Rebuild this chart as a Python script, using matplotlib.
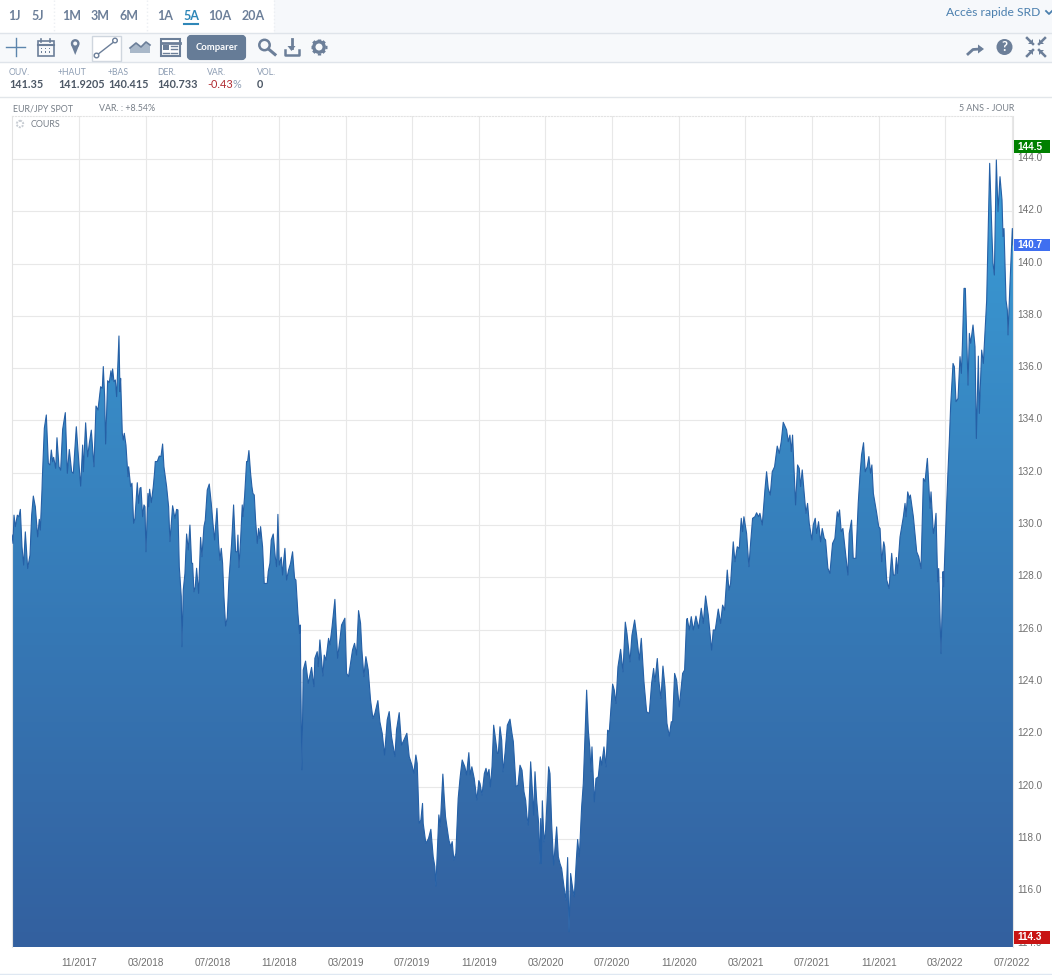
import numpy as np
import matplotlib
matplotlib.use('Agg')
import matplotlib.pyplot as plt
from matplotlib.colors import LinearSegmentedColormap
from matplotlib.patches import Rectangle, FancyBboxPatch, Circle, Polygon
from matplotlib.transforms import ScaledTranslation

# position on the time axis, in months since 07/2017
months = [
    -0.02, 0.04, 0.10, 0.18, 0.30, 0.40, 0.48, 0.58, 0.68, 0.78, 0.92, 1.06, 1.16, 1.26, 1.38, 1.52,
    1.62, 1.68, 1.78, 1.80, 1.92, 2.04, 2.16, 2.26, 2.34, 2.42, 2.48, 2.60, 2.68, 2.80, 2.90, 3.02,
    3.18, 3.30, 3.42, 3.56, 3.66, 3.84, 3.98, 4.10, 4.22, 4.26, 4.40, 4.52, 4.62, 4.74,
    4.90, 5.02, 5.14, 5.30, 5.40, 5.46, 5.54, 5.60, 5.72, 5.82, 5.92, 5.98, 6.02, 6.10, 6.18, 6.26,
    6.40, 6.46, 6.50, 6.60, 6.66, 6.72, 6.82, 6.94, 6.98, 7.10, 7.18, 7.28, 7.36, 7.50, 7.58, 7.66,
    7.72, 7.82, 7.90, 7.96, 8.02, 8.14, 8.18, 8.24, 8.34, 8.46, 8.54, 8.58, 8.70, 8.82, 8.92, 9.02,
    9.10, 9.26, 9.38, 9.46, 9.62, 9.76, 9.86, 9.94, 10.02, 10.14, 10.18, 10.26, 10.36, 10.46, 10.56, 10.66,
    10.76, 10.82, 10.90, 10.98, 11.06, 11.18, 11.30, 11.38, 11.50, 11.58, 11.70, 11.82, 11.94, 12.04, 12.14, 12.28,
    12.38, 12.46, 12.54, 12.62, 12.70, 12.80, 12.90, 13.00, 13.16, 13.28, 13.40, 13.50, 13.54, 13.60, 13.70, 13.80,
    13.84, 13.94, 14.06, 14.12, 14.20, 14.30, 14.38, 14.44, 14.52, 14.60, 14.70, 14.78, 14.86, 14.90, 15.02, 15.12,
    15.22, 15.30, 15.36, 15.46, 15.54, 15.66, 15.78, 15.86, 15.94, 16.02, 16.14, 16.22, 16.28, 16.36, 16.46, 16.58,
    16.70, 16.82, 16.94, 17.02, 17.14, 17.24, 17.28,
    17.32, 17.38, 17.46, 17.60, 17.76, 17.96, 18.10, 18.16, 18.30, 18.36, 18.46, 18.56, 18.64, 18.72, 18.82, 18.98,
    19.06, 19.18, 19.36, 19.52, 19.66, 19.76, 19.96, 20.06, 20.18, 20.30, 20.42, 20.54, 20.66, 20.78, 20.90, 20.98,
    21.10, 21.22, 21.36, 21.50, 21.64, 21.76, 21.94, 22.06, 22.20, 22.34, 22.50, 22.62, 22.76, 22.96, 23.06, 23.22,
    23.36, 23.50, 23.68, 23.82, 23.98, 24.10, 24.22, 24.30, 24.42, 24.52, 24.62, 24.66, 24.82, 24.98, 25.12, 25.26,
    25.36, 25.42, 25.60, 25.68, 25.84, 25.92, 26.00, 26.20, 26.32, 26.40, 26.50, 26.62, 26.76, 26.88, 27.00, 27.16,
    27.26, 27.40, 27.48, 27.58, 27.72, 27.88, 28.00,
    28.07, 28.19, 28.33, 28.43, 28.51, 28.61, 28.69, 28.79, 28.89, 28.97, 29.11, 29.17, 29.27, 29.37, 29.45, 29.57,
    29.71, 29.87, 29.99, 30.07, 30.23, 30.35, 30.47, 30.59, 30.71, 30.81, 30.89, 30.97, 31.11, 31.21, 31.29, 31.37,
    31.47, 31.59, 31.67, 31.71, 31.75, 31.81, 31.91, 32.01, 32.19, 32.27, 32.37, 32.49, 32.67, 32.77, 32.87, 32.97,
    33.11, 33.23, 33.33, 33.41, 33.51, 33.63, 33.73, 33.85, 33.93, 34.03, 34.17, 34.27, 34.47, 34.57, 34.67, 34.73,
    34.79, 34.93, 35.03, 35.17, 35.29, 35.37, 35.51, 35.63, 35.73, 35.83, 36.03, 36.13, 36.23, 36.35, 36.51, 36.65,
    36.79, 36.89, 37.07, 37.19, 37.35, 37.47, 37.63, 37.75, 37.91, 38.07, 38.23, 38.37, 38.49, 38.57, 38.71, 38.81,
    38.93, 39.05, 39.17, 39.29, 39.43, 39.55, 39.63, 39.75, 39.87, 40.03, 40.23, 40.35, 40.47,
    40.51, 40.63, 40.75, 40.87, 41.03, 41.19, 41.35, 41.47, 41.61, 41.77, 41.97, 42.07, 42.19, 42.37, 42.51, 42.63,
    42.75, 42.91, 43.01, 43.11, 43.27, 43.37, 43.51, 43.63, 43.75, 43.83, 43.91, 44.07, 44.21, 44.31, 44.43, 44.57,
    44.67, 44.79, 44.87, 45.01, 45.17, 45.27, 45.37, 45.49, 45.61, 45.75, 45.91, 46.03, 46.15, 46.27, 46.39, 46.47,
    46.57, 46.67, 46.75, 46.83, 47.01, 47.13, 47.23, 47.31, 47.41, 47.51, 47.63, 47.73, 47.83, 47.99, 48.07, 48.19,
    48.27, 48.39, 48.51, 48.61, 48.73, 48.81, 48.95, 49.07, 49.23, 49.37, 49.51, 49.57, 49.65, 49.75, 49.85, 49.97,
    50.15, 50.23, 50.37, 50.47, 50.63, 50.77, 50.87, 50.97, 51.09, 51.19, 51.31, 51.41, 51.51, 51.59,
    51.68, 51.88, 52.00, 52.08, 52.18, 52.30, 52.36, 52.48, 52.62, 52.78, 52.88, 52.98, 53.06, 53.12, 53.28, 53.48,
    53.58, 53.64, 53.74, 53.84, 53.90, 54.08, 54.28, 54.40, 54.54, 54.68, 54.78, 54.92, 55.08, 55.14, 55.28, 55.36,
    55.44, 55.54, 55.60, 55.74, 55.86, 55.90, 56.00, 56.14, 56.24, 56.32, 56.46, 56.54, 56.64, 56.76, 56.88, 56.96,
    57.02, 57.12, 57.20, 57.36, 57.44, 57.52, 57.66, 57.78, 57.86, 57.98, 58.04, 58.18, 58.28, 58.48, 58.66, 58.80,
    58.86, 58.94, 59.06, 59.16, 59.28, 59.40, 59.46, 59.52, 59.64, 59.72, 59.76, 59.88, 60.02, 60.06,
]

# EUR/JPY close
price = [
    129.62, 129.30, 130.38, 129.94, 130.38, 130.32, 130.60, 129.17, 128.47, 129.74, 128.34, 128.85, 130.38, 131.11, 130.70, 129.55,
    130.22, 129.81, 131.34, 131.78, 133.70, 134.21, 132.36, 132.30, 132.87, 132.42, 132.59, 132.17, 133.34, 132.23, 132.10, 133.66,
    134.30, 131.98, 132.89, 132.04, 131.98, 133.76, 132.49, 131.49, 133.06, 132.04, 133.91, 132.61, 133.12, 133.63,
    132.23, 134.55, 134.40, 135.29, 135.23, 136.06, 134.91, 133.10, 135.52, 135.45, 135.90, 135.55, 135.97, 135.48, 135.55, 134.91,
    137.23, 135.10, 135.61, 133.51, 133.25, 133.51, 133.06, 131.85, 132.23, 131.47, 131.60, 130.07, 130.26, 131.62, 130.83, 131.41,
    131.44, 130.32, 130.77, 130.70, 128.98, 131.21, 130.70, 131.37, 130.86, 131.47, 132.04, 132.43, 132.43, 132.64, 132.62, 133.10,
    132.23, 131.47, 130.70, 129.37, 130.74, 130.26, 130.60, 130.58, 128.41, 127.26, 125.35, 127.52, 128.15, 129.66, 129.05, 130.00,
    128.54, 128.54, 127.45, 127.64, 128.35, 127.39, 129.53, 128.79, 129.94, 130.19, 131.34, 131.57, 130.83, 130.07, 129.43, 130.64,
    129.30, 128.66, 129.11, 128.54, 127.26, 126.14, 126.47, 127.90, 129.30, 130.77, 128.98, 128.98, 129.62, 128.38, 129.43, 130.77,
    130.32, 131.09, 132.43, 132.43, 132.85, 131.98, 131.47, 131.21, 131.15, 130.19, 129.30, 129.87, 129.49, 129.94, 129.17, 127.77,
    127.77, 127.77, 128.22, 128.54, 129.43, 129.66, 128.79, 128.41, 130.41, 128.47, 128.77, 128.09, 128.60, 129.11, 127.90, 128.28,
    128.54, 128.98, 127.96, 127.90, 126.62, 125.86, 126.18,
    123.70, 120.64, 124.46, 124.80, 123.95, 124.56, 123.82, 124.91, 125.16, 124.59, 125.61, 124.84, 124.23, 125.03, 124.84, 125.67,
    125.42, 126.05, 127.16, 124.91, 125.61, 126.18, 126.44, 124.33, 124.21, 124.72, 125.23, 125.48, 125.03, 126.73, 126.25, 125.23,
    124.21, 124.97, 124.46, 123.31, 122.61, 122.80, 123.29, 122.48, 122.04, 121.21, 122.55, 122.87, 121.91, 121.15, 122.17, 122.83,
    121.59, 121.78, 122.04, 121.15, 120.83, 120.51, 121.21, 120.89, 118.60, 118.72, 119.36, 118.60, 117.83, 118.02, 118.37, 117.32,
    116.94, 116.20, 118.92, 118.47, 120.48, 119.62, 118.85, 117.96, 117.70, 117.90, 117.20, 117.45, 119.55, 120.38, 121.02, 120.76,
    120.45, 121.30, 120.45, 120.76, 120.32, 119.49, 120.23,
    120.12, 119.68, 120.50, 120.70, 120.44, 120.66, 119.99, 120.76, 122.35, 121.97, 121.27, 121.27, 122.29, 121.78, 120.57, 121.27,
    122.35, 122.58, 122.03, 121.72, 120.00, 120.06, 120.82, 120.63, 119.80, 119.48, 118.85, 118.53, 120.95, 119.87, 118.91, 120.57,
    119.48, 118.59, 117.06, 118.78, 117.06, 119.46, 117.89, 118.34, 120.76, 120.50, 118.59, 117.00, 118.46, 117.32, 117.06, 116.87,
    116.17, 115.66, 117.29, 114.45, 116.68, 116.11, 115.79, 117.19, 117.98, 117.32, 119.23, 120.12, 123.69, 122.16, 121.40, 120.57,
    121.52, 119.42, 120.31, 120.38, 121.14, 120.82, 121.52, 120.76, 122.16, 122.10, 123.92, 123.69, 123.18, 124.58, 125.25, 124.39,
    126.29, 125.86, 124.77, 125.79, 126.37, 125.79, 124.84, 125.67, 124.01, 122.86, 122.80, 123.95, 124.52, 124.01, 124.90, 124.01,
    123.37, 124.61, 123.82, 122.42, 121.93, 122.48, 122.48, 124.33, 124.07, 123.05, 124.33, 124.46, 126.37,
    126.43, 125.99, 126.50, 125.99, 126.52, 126.05, 126.82, 126.24, 127.29, 126.56, 125.22, 125.99, 125.99, 126.79, 126.24, 126.94,
    126.75, 128.28, 127.52, 127.77, 129.36, 128.60, 129.17, 129.11, 130.26, 129.75, 130.32, 129.68, 128.41, 129.30, 130.26, 130.32,
    130.47, 130.32, 130.45, 130.00, 131.34, 132.04, 131.40, 131.15, 132.04, 132.23, 133.02, 132.74, 133.19, 133.93, 133.76, 133.64,
    133.19, 133.44, 132.81, 133.44, 130.77, 132.30, 132.17, 131.47, 132.11, 131.34, 130.45, 130.83, 130.07, 129.43, 130.00, 130.26,
    129.68, 130.13, 129.36, 129.87, 129.49, 129.43, 128.35, 128.15, 129.30, 129.49, 130.51, 130.32, 130.58, 129.75, 129.87, 129.17,
    128.09, 129.68, 130.19, 128.73, 128.73, 130.83, 131.85, 132.68, 133.15, 132.04, 132.23, 132.62, 131.98, 132.30,
    131.21, 130.45, 129.94, 129.87, 128.60, 129.36, 129.17, 127.90, 127.58, 128.92, 128.09, 128.09, 128.76, 128.15, 129.55, 130.32,
    130.83, 130.32, 131.27, 131.02, 131.15, 130.32, 128.98, 128.79, 128.34, 131.78, 131.66, 132.55, 130.64, 131.27, 129.68, 129.94,
    130.45, 127.83, 128.34, 125.09, 128.22, 127.64, 129.49, 131.78, 133.25, 134.59, 136.18, 136.05, 134.72, 134.84, 136.44, 135.80,
    136.82, 139.05, 139.05, 135.35, 137.33, 136.95, 137.65, 136.82, 133.31, 136.46, 134.27, 136.69, 136.18, 138.60, 143.83, 141.03,
    140.01, 139.56, 143.96, 141.98, 143.32, 142.43, 141.03, 141.34, 138.60, 138.22, 137.27, 139.24, 141.34, 140.71,
]

y_ticks = [114.0, 116.0, 118.0, 120.0, 122.0, 124.0, 126.0, 128.0, 130.0, 132.0, 134.0, 136.0, 138.0, 140.0, 142.0, 144.0]
x_ticks = [4, 8, 12, 16, 20, 24, 28, 32, 36, 40, 44, 48, 52, 56, 60]
x_labels = ['11/2017', '03/2018', '07/2018', '11/2018', '03/2019', '07/2019', '11/2019', '03/2020',
            '07/2020', '11/2020', '03/2021', '07/2021', '11/2021', '03/2022', '07/2022']

period_groups = [['1J', '5J'], ['1M', '3M', '6M'], ['1A', '5A', '10A', '20A']]
quote_names = ['OUV.', '+HAUT', '+BAS', 'DER.', 'VAR.', 'VOL.']
quote_values = ['141.35', '141.9205', '140.415', '140.733', '-0.43%', '0']

W, H = 1052, 975
UI_FONT = ['Lato', 'DejaVu Sans']
CHART_FONT = ['Liberation Sans', 'DejaVu Sans']
SLATE = '#6c7f99'

fig = plt.figure(figsize=(W / 100, H / 100), dpi=100, facecolor='white')

# chrome layer in pixel coordinates, y going down
ui = fig.add_axes([0, 0, 1, 1], zorder=1)
ui.set_xlim(0, W)
ui.set_ylim(H, 0)
ui.axis('off')

ui.add_patch(Rectangle((0, 0), W, 33, fc='#f6f8fb', ec='none'))
ui.add_patch(Rectangle((0, 0), 274, 33, fc='white', ec='none'))
ui.add_patch(Rectangle((0, 33), W, 29, fc='#f7f9fb', ec='none'))
for yy, c in [(33, '#dfe4ea'), (62, '#dfe4ea'), (96.5, '#e2e6ea'), (973.5, '#dfe8f2')]:
    ui.plot([0, W], [yy, yy], color=c, lw=1)
for xx in [54, 147, 274]:
    ui.plot([xx, xx], [0, 33], color='#eceff3', lw=1, ls=':')

tab_x = {'1J': 14, '5J': 38, '1M': 72, '3M': 100, '6M': 129, '1A': 165, '5A': 191, '10A': 220, '20A': 253}
for group in period_groups:
    for name in group:
        col = '#2f87b8' if name == '5A' else SLATE
        ui.text(tab_x[name], 15.5, name, ha='center', va='center', fontsize=9, fontweight='bold',
                color=col, family=UI_FONT)
ui.plot([183.5, 198], [24, 24], color='#2f87b8', lw=1.5)

ui.text(1040, 12, 'Accès rapide SRD', ha='right', va='center', fontsize=8.7, color='#4b7fae', family=UI_FONT)
ui.plot([1046, 1049, 1052], [11, 14, 11], color='#4b7fae', lw=1.3)

# toolbar icons, left side
ui.plot([6, 25], [47, 47], color='#5d86ad', lw=1)
ui.plot([15.5, 15.5], [38, 56], color='#5d86ad', lw=1)

ui.add_patch(Rectangle((37.5, 41), 16, 15, fc='none', ec=SLATE, lw=1.2))
ui.plot([37.5, 53.5], [45, 45], color=SLATE, lw=1.5)
ui.plot([41, 41], [38.5, 42], color=SLATE, lw=1.2)
ui.plot([50, 50], [38.5, 42], color=SLATE, lw=1.2)
for cx in [41.5, 45.5, 49.5]:
    for cy in [48.5, 52]:
        ui.add_patch(Rectangle((cx - 0.9, cy - 0.9), 1.8, 1.8, fc=SLATE, ec='none'))

ui.add_patch(Polygon([[71.2, 45], [79.2, 45], [75.2, 55]], fc=SLATE, ec='none'))
ui.add_patch(Circle((75.2, 43.5), 4.4, fc=SLATE, ec='none'))
ui.add_patch(Circle((75.2, 43.5), 2, fc='#f7f9fb', ec='none'))

ui.add_patch(Rectangle((91.5, 35.5), 29, 25, fc='white', ec='#cfd6de', lw=1))
ui.plot([97, 115], [55, 41], color=SLATE, lw=1)
ui.add_patch(Circle((96.5, 55.5), 2.3, fc='white', ec=SLATE, lw=1, zorder=3))
ui.add_patch(Circle((115, 40.5), 2.3, fc='white', ec=SLATE, lw=1, zorder=3))

ui.add_patch(Polygon([[130, 53], [130, 48], [136, 43], [141, 47], [146, 42], [150, 45], [150, 53]],
                     fc='#a9b8c9', ec='none'))
ui.plot([130, 136, 141, 146, 150], [48, 43, 47, 42, 45], color=SLATE, lw=1.2)

ui.add_patch(Rectangle((160.5, 39), 19, 17, fc='white', ec=SLATE, lw=1.5))
ui.plot([160.5, 179.5], [42.5, 42.5], color=SLATE, lw=2)
ui.add_patch(Rectangle((163, 45), 6, 5, fc=SLATE, ec='none'))
for yy in [46, 49, 52.5]:
    ui.plot([171, 177], [yy, yy], color=SLATE, lw=1)
ui.plot([163, 169], [52.5, 52.5], color=SLATE, lw=1)

ui.add_patch(FancyBboxPatch((189, 37), 55, 21, boxstyle='round,pad=0,rounding_size=2', fc='#667c97',
                            ec='#667c97', lw=3))
ui.text(216.5, 48, 'Comparer', ha='center', va='center', fontsize=6.8, fontweight='bold', color='white',
        family=UI_FONT)

ui.add_patch(Circle((264.5, 45), 5.2, fc='none', ec=SLATE, lw=1.8))
ui.plot([268.5, 275], [49, 54.5], color=SLATE, lw=2.2)

ui.plot([291.5, 291.5], [39, 48], color=SLATE, lw=2)
ui.add_patch(Polygon([[287.5, 46], [295.5, 46], [291.5, 51]], fc=SLATE, ec='none'))
ui.plot([284.5, 284.5, 298.5, 298.5], [50, 54.5, 54.5, 50], color=SLATE, lw=1.8)

ui.add_patch(Circle((319, 47), 5.2, fc='none', ec=SLATE, lw=2.4))
for ang in np.arange(0, 360, 45):
    dx, dy = np.cos(np.radians(ang)), np.sin(np.radians(ang))
    ui.plot([319 + 5.5 * dx, 319 + 8 * dx], [47 + 5.5 * dy, 47 + 8 * dy], color=SLATE, lw=2.4, solid_capstyle='butt')

# toolbar icons, right side
ui.plot([968, 973, 980], [54, 49.5, 49], color=SLATE, lw=2)
ui.add_patch(Polygon([[978, 44.5], [984, 49], [978, 53.5]], fc=SLATE, ec='none'))
ui.add_patch(Circle((1004.5, 47), 8, fc=SLATE, ec='none'))
ui.text(1004.5, 47.2, '?', ha='center', va='center', fontsize=9.5, fontweight='bold', color='white', family=UI_FONT)
for sx, sy in [(-1, -1), (1, -1), (-1, 1), (1, 1)]:
    cx, cy = 1036 + 3 * sx, 47 + 3 * sy
    ui.plot([cx, cx + 6 * sx], [cy, cy + 6 * sy], color=SLATE, lw=1.8)
    ui.add_patch(Polygon([[cx, cy], [cx + 5 * sx, cy], [cx, cy + 5 * sy]], fc=SLATE, ec='none'))

# quote strip
quote_x = [9, 58, 108, 157, 207, 257]
for xx, name, value in zip(quote_x, quote_names, quote_values):
    ui.text(xx, 72.5, name, ha='left', va='center', fontsize=6.2, color='#8d9db3', family=UI_FONT)
    if value.startswith('-'):
        t = ui.text(xx, 84.5, value[:-1], ha='left', va='center', fontsize=7.8, color='#b02a30', family=UI_FONT)
        ui.annotate('%', xy=(1, 0), xycoords=t, ha='left', va='bottom', fontsize=7.8, color='#8d9db3', family=UI_FONT)
    else:
        ui.text(xx, 84.5, value, ha='left', va='center', fontsize=7.8, fontweight='bold', color='#4c5765',
                family=UI_FONT)

ui.text(13, 108.5, 'EUR/JPY SPOT', ha='left', va='center', fontsize=6.4, color='#777f88', family=UI_FONT)
ui.text(99, 108.5, 'VAR. : +8.54%', ha='left', va='center', fontsize=6.4, color='#777f88', family=UI_FONT)
ui.text(1014, 108.5, '5 ANS - JOUR', ha='right', va='center', fontsize=6.4, color='#777f88', family=UI_FONT)

ui.add_patch(Circle((20, 124), 3.2, fc='none', ec='#c8cdd3', lw=1.4, ls=(0, (1, 0.6))))
ui.text(31, 124.5, 'COURS', ha='left', va='center', fontsize=6.4, color='#777f88', family=UI_FONT)

# chart itself
left, right, top, bottom = 12, 1013, 116, 947
ax = fig.add_axes([left / W, 1 - bottom / H, (right - left) / W, (bottom - top) / H], zorder=2)
ax.patch.set_alpha(0)
ax.set_xlim(-0.02, 60.06)
ax.set_ylim(113.87, 145.64)

ax.set_xticks(x_ticks)
ax.set_xticklabels(x_labels)
ax.set_yticks(y_ticks)
ax.set_yticklabels([f'{v:.1f}' for v in y_ticks])
ax.yaxis.tick_right()
ax.tick_params(length=0, labelsize=7.2, labelcolor='#6f6f6f')
ax.tick_params(axis='x', pad=8)
ax.tick_params(axis='y', pad=3)
for lab in ax.get_xticklabels() + ax.get_yticklabels():
    lab.set_family(CHART_FONT)
for lab in ax.get_yticklabels():
    lab.set_transform(lab.get_transform() + ScaledTranslation(0, 2 / 100, fig.dpi_scale_trans))
ax.grid(True, color='#e8e8e8', lw=0.8)
ax.set_axisbelow(True)
for name, spine in ax.spines.items():
    spine.set_color('#e3e3e3')
    spine.set_linewidth(0.8)
    spine.set_visible(name != 'bottom')
ax.spines['top'].set_linestyle(':')

area_cmap = LinearSegmentedColormap.from_list('area', ['#33609f', '#3a9cd6'])
area = ax.fill_between(months, price, 113.87, color='none', lw=0)
grad = ax.imshow(np.linspace(1, 0, 256).reshape(-1, 1), cmap=area_cmap, aspect='auto',
                 extent=[-0.02, 60.06, 113.87, 144.0], zorder=2)
grad.set_clip_path(area.get_paths()[0], transform=ax.transData)
ax.set_xlim(-0.02, 60.06)
ax.set_ylim(113.87, 145.64)
ax.plot(months, price, color='#2560a6', lw=0.8, zorder=3)

# last / high / low flags over the scale
flags = fig.add_axes([0, 0, 1, 1], zorder=3)
flags.set_xlim(0, W)
flags.set_ylim(H, 0)
flags.axis('off')
for y0, h, col, txt in [(140, 13, '#008000', '144.5'), (238.5, 12.5, '#3f6ff0', '140.7'), (930.5, 13, '#c81414', '114.3')]:
    flags.add_patch(Rectangle((1014, y0), 36, h, fc=col, ec='none'))
    flags.text(1017, y0 + h / 2, txt, ha='left', va='center', fontsize=7.2, fontweight='bold', color='white',
               family=CHART_FONT)

fig.savefig('out.png', dpi=100, facecolor='white')
